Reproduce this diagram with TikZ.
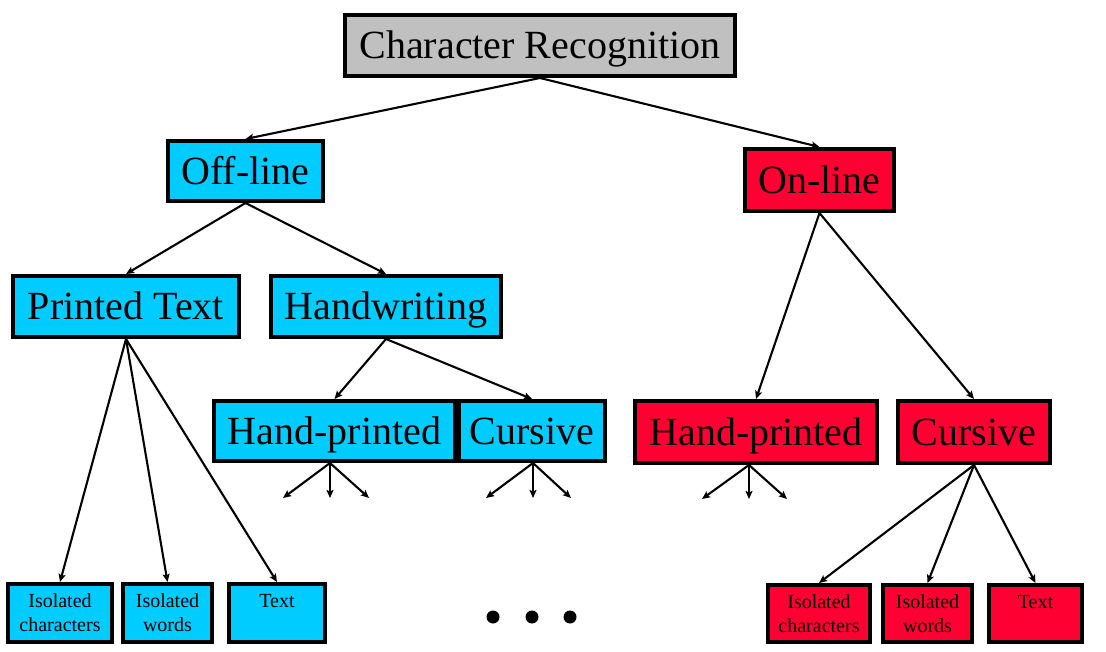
\documentclass[tikz,border=0pt]{standalone}
\usepackage{fontspec}
\setmainfont{Liberation Serif}
\usetikzlibrary{arrows.meta}
\definecolor{cyanbox}{HTML}{00CCFF}
\definecolor{redbox}{HTML}{FF0033}
\definecolor{greybox}{HTML}{C0C0C0}
\begin{document}
\begin{tikzpicture}[x=1pt,y=-1pt,
  box/.style={draw=black, line width=4pt, inner sep=0pt, align=center,
    font=\fontsize{40}{44}\selectfont, text height=30pt, text depth=3pt},
  small/.style={draw=black, line width=4pt, inner sep=0pt, align=center,
    font=\fontsize{20}{24}\selectfont},
  cy/.style={fill=cyanbox},
  rd/.style={fill=redbox},
  gr/.style={fill=greybox},
  arr/.style={line width=2.1pt, -{Stealth[length=8pt,width=7pt,inset=1.5pt]}}
]
\useasboundingbox (0,0) rectangle (1106,652);

% top
\node[box,gr,minimum width=390,minimum height=61] (cr) at (540,45.5) {Character Recognition};
% level 1
\node[box,cy,minimum width=155,minimum height=60] (off) at (245.5,171) {Off-line};
\node[box,rd,minimum width=149,minimum height=62] (on) at (819.5,180) {On-line};
% level 2
\node[box,cy,minimum width=226,minimum height=61] (pt) at (126,306.5) {Printed Text};
\node[box,cy,minimum width=230,minimum height=61] (hw) at (386,306.5) {Handwriting};
% level 3
\node[box,cy,minimum width=241,minimum height=60] (hpb) at (334.5,431) {Hand-printed};
\node[box,cy,minimum width=146,minimum height=60] (cub) at (532,431) {Cursive};
\node[box,rd,minimum width=242,minimum height=62] (hpr) at (756,432) {Hand-printed};
\node[box,rd,minimum width=152,minimum height=62] (cur) at (974,432) {Cursive};
% leaves blue
\node[small,cy,minimum width=104,minimum height=58] (icb) at (60,613) {Isolated\\characters};
\node[small,cy,minimum width=89,minimum height=58] (iwb) at (167.5,613) {Isolated\\words};
\node[small,cy,minimum width=96,minimum height=58] (txb) at (277,613) {Text\\\mbox{}};
% leaves red
\node[small,rd,minimum width=102,minimum height=57] (icr) at (819,613.5) {Isolated\\characters};
\node[small,rd,minimum width=89,minimum height=57] (iwr) at (927.5,613.5) {Isolated\\words};
\node[small,rd,minimum width=93,minimum height=57] (txr) at (1035.5,613.5) {Text\\\mbox{}};

% dots
\fill (493,617) circle (6.5);
\fill (532,617) circle (6.5);
\fill (570,617) circle (6.5);

% connectors
\draw[arr] (cr.south) -- (off.north);
\draw[arr] (cr.south) -- (on.north);
\draw[arr] (off.south) -- (pt.north);
\draw[arr] (off.south) -- (hw.north);
\draw[arr] (pt.south) -- (icb.north);
\draw[arr] (pt.south) -- (iwb.north);
\draw[arr] (pt.south) -- (txb.north);
\draw[arr] (hw.south) -- (hpb.north);
\draw[arr] (hw.south) -- (cub.north);
\draw[arr] (on.south) -- (hpr.north);
\draw[arr] (on.south) -- (cur.north);
\draw[arr] (cur.south) -- (icr.north);
\draw[arr] (cur.south) -- (iwr.north);
\draw[arr] (cur.south) -- (txr.north);

% stubs
\coordinate (s1) at (283,498);
\coordinate (s2) at (330,498);
\coordinate (s3) at (369,498);
\coordinate (s4) at (486,498);
\coordinate (s5) at (533,498);
\coordinate (s6) at (571,498);
\coordinate (s7) at (702,499);
\coordinate (s8) at (749,499);
\coordinate (s9) at (787,499);
\draw[arr] ([xshift=-4.5pt]hpb.south) -- (s1);
\draw[arr] ([xshift=-4.5pt]hpb.south) -- (s2);
\draw[arr] ([xshift=-4.5pt]hpb.south) -- (s3);
\draw[arr] ([xshift=1pt]cub.south) -- (s4);
\draw[arr] ([xshift=1pt]cub.south) -- (s5);
\draw[arr] ([xshift=1pt]cub.south) -- (s6);
\draw[arr] ([xshift=-7pt]hpr.south) -- (s7);
\draw[arr] ([xshift=-7pt]hpr.south) -- (s8);
\draw[arr] ([xshift=-7pt]hpr.south) -- (s9);
\end{tikzpicture}
\end{document}
